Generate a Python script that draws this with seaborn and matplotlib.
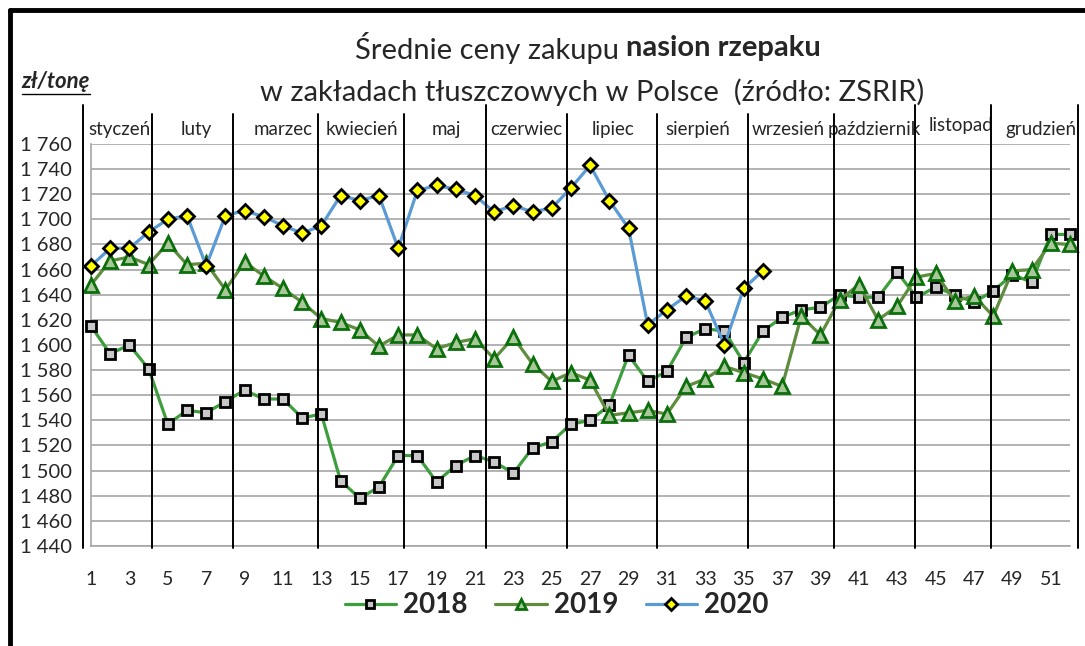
#%% Packages
import numpy as np
import pandas as pd
import matplotlib
matplotlib.use('Agg')
from matplotlib import pyplot as plt
from matplotlib.lines import Line2D
import matplotlib.transforms as mtransforms
import seaborn as sns

sns.set_style('white')
plt.rcParams['font.family'] = ['Lato', 'DejaVu Sans']

#%% Data
weeks_2018 = list(range(1, 53))
price_2018 = [1615, 1593, 1600, 1581, 1537, 1548, 1546, 1555, 1564, 1557,
              1557, 1542, 1545, 1492, 1478, 1487, 1512, 1512, 1491, 1504,
              1512, 1507, 1498, 1518, 1523, 1537, 1540, 1552, 1592, 1571,
              1579, 1606, 1613, 1611, 1586, 1611, 1622, 1628, 1630, 1640,
              1638, 1638, 1658, 1638, 1646, 1640, 1634, 1643, 1656, 1650,
              1688, 1688]

weeks_2019 = list(range(1, 53))
price_2019 = [1648, 1667, 1670, 1664, 1681, 1664, 1665, 1644, 1666, 1655,
              1645, 1634, 1621, 1618, 1612, 1599, 1608, 1608, 1597, 1602,
              1605, 1589, 1606, 1585, 1571, 1578, 1572, 1544, 1546, 1548,
              1545, 1567, 1573, 1583, 1578, 1573, 1567, 1623, 1608, 1636,
              1648, 1620, 1631, 1654, 1657, 1635, 1639, 1623, 1659, 1660,
              1681, 1680]

weeks_2020 = list(range(1, 37))
price_2020 = [1663, 1677, 1677, 1690, 1700, 1703, 1663, 1703, 1707, 1702,
              1695, 1689, 1695, 1719, 1715, 1719, 1677, 1723, 1727, 1724,
              1719, 1706, 1711, 1706, 1709, 1725, 1743, 1715, 1693, 1616,
              1628, 1639, 1635, 1600, 1645, 1659]

months = ['styczeń', 'luty', 'marzec', 'kwiecień', 'maj', 'czerwiec',
          'lipiec', 'sierpień', 'wrzesień', 'październik', 'listopad', 'grudzień']
month_label_x = [2.5, 6.5, 11.0, 15.1, 19.5, 23.7, 28.2, 32.6, 37.3, 41.8, 46.3, 50.5]
month_lines = [0.58, 4.2, 8.4, 12.8, 17.3, 21.6, 25.8, 30.5, 35.2, 39.7, 43.9, 47.9, 52.4]

yticks = list(range(1440, 1761, 20))
xticks = list(range(1, 52, 2))

#%% Figure
fig = plt.figure(figsize=(10.85, 6.46), dpi=100)
ax = fig.add_axes([0.0839, 0.1548, 0.9023, 0.6223])

ax.set_xlim(1, 52)
ax.set_ylim(1440, 1760)
for y in yticks:
    ax.axhline(y, color='#a6a6a6', lw=1.2, zorder=0)

sns.lineplot(x=weeks_2018, y=price_2018, ax=ax, color='#3e9e3e', lw=2.3,
             marker='s', markersize=7, markerfacecolor='#c8c8c8',
             markeredgecolor='black', markeredgewidth=2.0, label='2018',
             zorder=3, clip_on=False)
sns.lineplot(x=weeks_2019, y=price_2019, ax=ax, color='#5f8c3e', lw=2.3,
             marker='^', markersize=9.5, markerfacecolor='#a9c89a',
             markeredgecolor='#0b6f0b', markeredgewidth=2.0, label='2019',
             zorder=4, clip_on=False)
sns.lineplot(x=weeks_2020, y=price_2020, ax=ax, color='#5b9bd5', lw=2.3,
             marker='D', markersize=7.5, markerfacecolor='#ffff00',
             markeredgecolor='black', markeredgewidth=2.0, label='2020',
             zorder=5, clip_on=False)

ax.set_yticks(yticks)
ax.set_yticklabels([f'{v // 1000} {v % 1000:03d}' for v in yticks])
ax.set_xticks(xticks)
ax.tick_params(axis='y', length=0, pad=14, labelsize=14.5)
ax.tick_params(axis='x', length=0, pad=18, labelsize=14)
ax.set_xlabel('')
ax.set_ylabel('')
for side in ['top', 'right']:
    ax.spines[side].set_visible(False)
for side in ['left', 'bottom']:
    ax.spines[side].set_color('#a6a6a6')
    ax.spines[side].set_linewidth(1.2)

# month separators and names
trans = mtransforms.blended_transform_factory(ax.transData, ax.transAxes)
for i, xm in enumerate(month_lines):
    top = 1.098 if i in (0, 5, 10, 11, 12) else 1.075
    ax.add_line(Line2D([xm, xm], [-0.005, top], transform=trans, color='black',
                       lw=1.4, clip_on=False, zorder=6))
for name, xm in zip(months, month_label_x):
    ypos = 1.045 if name == 'listopad' else 1.035
    ax.text(xm, ypos, name, transform=trans, ha='center', va='center',
            fontsize=13.5, clip_on=False)

# legend
leg = fig.legend(*ax.get_legend_handles_labels(), loc='center',
                 bbox_to_anchor=(0.513, 0.063), ncol=3, frameon=False,
                 prop={'weight': 'bold', 'size': 20}, handlelength=1.85,
                 columnspacing=1.0, handletextpad=0.25, markerscale=0.75)
ax.get_legend().remove()

# frame lines of the original chart box
fig.add_artist(Line2D([0.009, 1.0], [0.984, 0.984], color='black', lw=3.5))
fig.add_artist(Line2D([0.009, 0.009], [0.0, 0.984], color='black', lw=3.5))

# title with bold part
fig.canvas.draw()
renderer = fig.canvas.get_renderer()
t1 = fig.text(0.327, 0.925, 'Średnie ceny zakupu ', fontsize=21, ha='left', va='center')
bb = t1.get_window_extent(renderer).transformed(fig.transFigure.inverted())
fig.text(bb.x1, 0.925, 'nasion rzepaku', fontsize=21, fontweight='bold',
         ha='left', va='center')
fig.text(0.546, 0.858, 'w zakładach tłuszczowych w Polsce  (źródło: ZSRIR)',
         fontsize=21, ha='center', va='center')

# unit label, underlined
tu = fig.text(0.02, 0.874, 'zł/tonę', fontsize=16, fontstyle='italic',
              fontweight='bold', ha='left', va='center')
bu = tu.get_window_extent(renderer).transformed(fig.transFigure.inverted())
fig.add_artist(Line2D([bu.x0, bu.x1], [bu.y0 - 0.004, bu.y0 - 0.004],
                      color='black', lw=1.0))

fig.savefig('out.png', dpi=100)
